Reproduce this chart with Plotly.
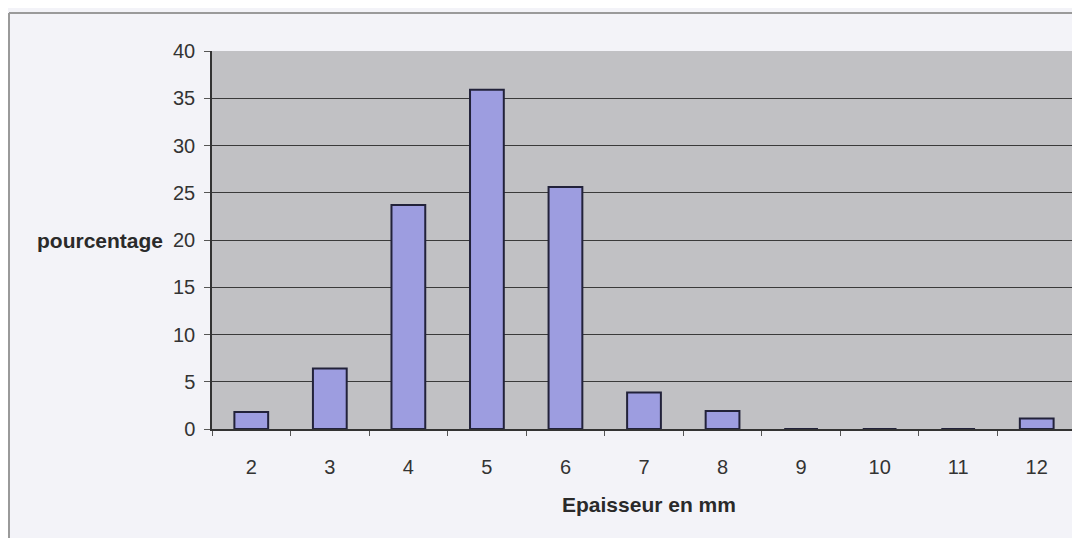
import plotly.graph_objects as go

categories = ["2", "3", "4", "5", "6", "7", "8", "9", "10", "11", "12"]
values = [1.8, 6.4, 23.7, 35.9, 25.6, 3.85, 1.9, 0, 0, 0, 1.1]
y_ticks = [0, 5, 10, 15, 20, 25, 30, 35, 40]

fig = go.Figure()
fig.add_trace(go.Bar(
    x=categories, y=values, width=0.43,
    marker=dict(color="#9d9de0", line=dict(color="#22223a", width=2)),
))

font = "Liberation Sans, Arial, sans-serif"
W, H = 1072, 530
L, R, T, B = 204, 4, 43, 109
pw, ph = W - L - R, H - T - B
fig.update_layout(
    width=W, height=H,
    margin=dict(l=L, r=R, t=T, b=B),
    paper_bgcolor="#f3f3f8", plot_bgcolor="#c1c1c4",
    showlegend=False,
    font=dict(family=font, size=20, color="#333"),
    xaxis=dict(type="category", tickson="boundaries", ticks="outside", ticklen=5,
               tickcolor="#555", showline=True, linecolor="#333", linewidth=1.5,
               showgrid=False, tickfont=dict(size=20, color="#333"), ticklabelstandoff=19),
    yaxis=dict(range=[0, 40], tickvals=y_ticks, ticks="outside", ticklen=6,
               tickcolor="#555", showline=True, linecolor="#333", linewidth=1.5,
               showgrid=True, gridcolor="#3a3a3a", gridwidth=1,
               tickfont=dict(size=20, color="#333"), zeroline=False, ticklabelstandoff=5),
)
fig.add_annotation(text="<b>pourcentage</b>", xref="paper", yref="y", x=(157 - L) / pw, y=20,
                   xanchor="right", yanchor="middle", showarrow=False,
                   font=dict(family=font, size=21, color="#2a2a2a"))
fig.add_annotation(text="<b>Epaisseur en mm</b>", xref="paper", x=(641 - L) / pw,
                   yref="paper", y=(H - B - 497) / ph,
                   xanchor="center", yanchor="middle", showarrow=False,
                   font=dict(family=font, size=21, color="#2a2a2a"))
top = (H - B - 5) / ph
left = (1 - L) / pw
fig.add_shape(type="line", xref="paper", yref="paper", x0=left, x1=1.02,
              y0=top, y1=top, line=dict(color="#9a9a9a", width=2))
fig.add_shape(type="line", xref="paper", yref="paper", x0=left, x1=left,
              y0=top, y1=-0.3, line=dict(color="#9a9a9a", width=2))
fig.write_html("out.html")
